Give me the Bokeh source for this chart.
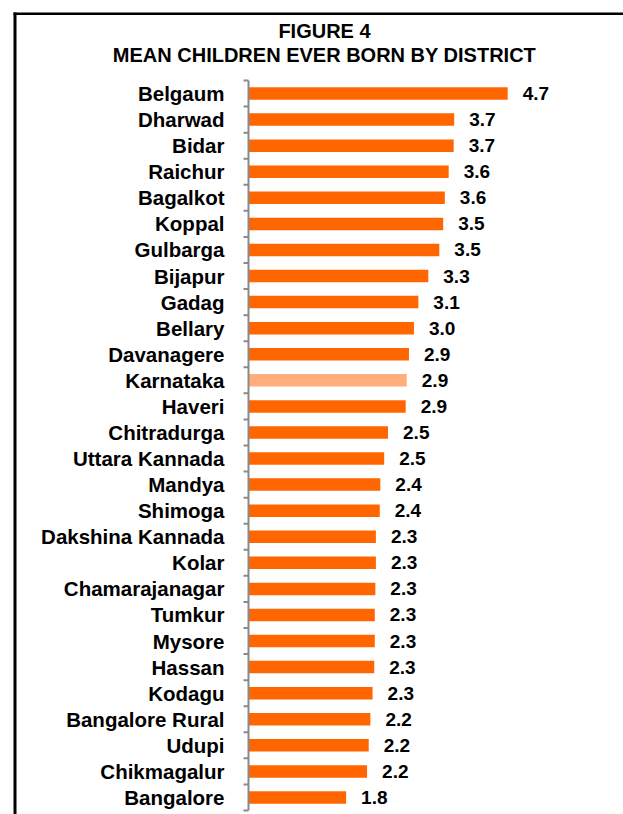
from bokeh.plotting import figure
from bokeh.models import ColumnDataSource, Range1d
from bokeh.core.properties import value
from bokeh.embed import file_html
from bokeh.resources import INLINE

# ---- data (top to bottom as in the chart) ----
districts = ["Belgaum", "Dharwad", "Bidar", "Raichur", "Bagalkot", "Koppal",
             "Gulbarga", "Bijapur", "Gadag", "Bellary", "Davanagere",
             "Karnataka", "Haveri", "Chitradurga", "Uttara Kannada", "Mandya",
             "Shimoga", "Dakshina Kannada", "Kolar", "Chamarajanagar",
             "Tumkur", "Mysore", "Hassan", "Kodagu", "Bangalore Rural",
             "Udupi", "Chikmagalur", "Bangalore"]
mean_ceb = [4.70, 3.73, 3.72, 3.63, 3.56, 3.53, 3.46, 3.26, 3.08, 3.00, 2.91,
            2.87, 2.85, 2.53, 2.46, 2.39, 2.38, 2.31, 2.31, 2.30, 2.29, 2.29,
            2.28, 2.25, 2.21, 2.18, 2.15, 1.77]
value_labels = ["4.7", "3.7", "3.7", "3.6", "3.6", "3.5", "3.5", "3.3", "3.1",
                "3.0", "2.9", "2.9", "2.9", "2.5", "2.5", "2.4", "2.4", "2.3",
                "2.3", "2.3", "2.3", "2.3", "2.3", "2.3", "2.2", "2.2", "2.2",
                "1.8"]
highlight = "Karnataka"
title_lines = ["FIGURE 4", "MEAN CHILDREN EVER BORN BY DISTRICT"]

# ---- layout constants (pixels) ----
W, H = 623, 814
AXIS_PX = 248          # x pixel of the category axis
TOP_PX = 80            # y pixel of top of first row
BOT_PX = 810           # y pixel of bottom of last row
PX_PER_UNIT = 55.15    # horizontal scale

n = len(districts)
ypos = [n - 1 - i for i in range(n)]
row_px = (BOT_PX - TOP_PX) / n

x0 = -AXIS_PX / PX_PER_UNIT
x1 = (W - AXIS_PX) / PX_PER_UNIT
y_top = n - 0.5 + TOP_PX / row_px
y_bot = -0.5 - (H - BOT_PX) / row_px


def px_x(px):
    return (px - AXIS_PX) / PX_PER_UNIT


def px_y(py):
    return n - 0.5 + (TOP_PX - py) / row_px


colors = ["#FFAD7A" if d == highlight else "#FF6600" for d in districts]
src = ColumnDataSource(dict(y=ypos, v=mean_ceb, lab=value_labels, c=colors,
                            name=districts))

FONT = value("Liberation Sans")

p = figure(width=W, height=H, output_backend="svg", toolbar_location=None,
           title=None, x_range=Range1d(x0, x1), y_range=Range1d(y_bot, y_top),
           x_axis_location=None, y_axis_location=None, min_border=0)
p.outline_line_color = None
p.xgrid.visible = False
p.ygrid.visible = False
p.background_fill_color = "white"
p.border_fill_color = "white"

# bars
p.hbar(y="y", right="v", left=0, height=0.48, fill_color="c",
       line_color=None, source=src)

# value labels
p.text(x="v", y="y", text="lab", source=src, x_offset=15,
       text_baseline="middle", text_align="left", text_font=FONT,
       text_font_style="bold", text_font_size="19px", text_color="black")

# category axis: line, boundary ticks, labels
bounds = [k - 0.5 for k in range(n + 1)]
grey = "#8A8A8A"
p.segment(x0=[0], y0=[-0.5], x1=[0], y1=[n - 0.5], line_color=grey,
          line_width=2)
tick_len = 5 / PX_PER_UNIT
p.segment(x0=[-tick_len] * len(bounds), y0=bounds, x1=[0] * len(bounds),
          y1=bounds, line_color=grey, line_width=2)
p.text(x=px_x(224), y="y", text="name", source=src, text_align="right",
       text_baseline="middle", text_font=FONT, text_font_style="bold",
       text_font_size="20.5px", text_color="black")

# titles
p.text(x=[px_x(324)] * 2, y=[px_y(30.5), px_y(54)], text=title_lines,
       text_align="center", text_baseline="middle", text_font=FONT,
       text_font_style="bold", text_font_size="20px", text_color="black")

# frame border (left and top visible)
p.segment(x0=[px_x(14.5)], y0=[px_y(12)], x1=[px_x(14.5)], y1=[y_bot],
          line_color="black", line_width=3)
p.segment(x0=[px_x(13)], y0=[px_y(13.2)], x1=[x1], y1=[px_y(13.2)],
          line_color="black", line_width=2.5)

open("out.html", "w").write(file_html(p, INLINE))
